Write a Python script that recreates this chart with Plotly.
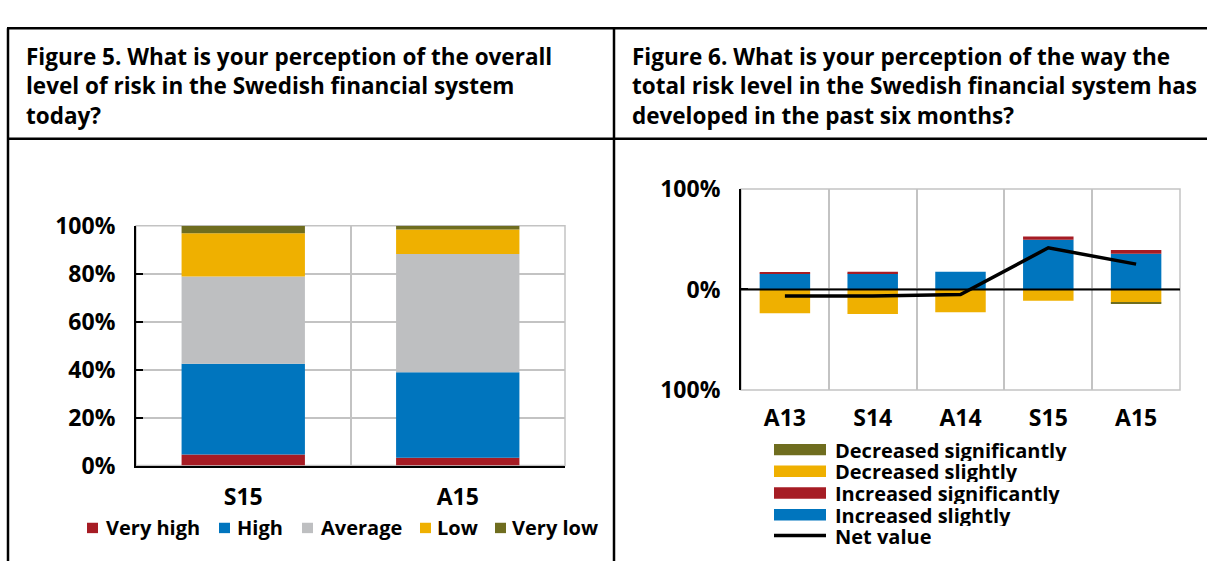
import plotly.graph_objects as go

W, H = 1207, 576

# Figure 5: perceived level of risk (share of respondents, %)
level_cats = ["S15", "A15"]
very_high = [4.6, 3.3]
high = [37.9, 35.6]
average = [36.3, 49.3]
low = [18.1, 10.2]
very_low = [3.1, 1.6]
level_ticks = [0, 20, 40, 60, 80, 100]
level_tick_text = ["0%", "20%", "40%", "60%", "80%", "100%"]

# Figure 6: perceived change in risk over the past six months (%)
change_cats = ["A13", "S14", "A14", "S15", "A15"]
inc_slight = [15.6, 15.9, 17.6, 49.5, 35.5]
inc_sig = [1.5, 1.8, 0.0, 3.1, 3.7]
dec_slight = [23.6, 24.3, 22.6, 11.2, 12.7]
dec_sig = [0.0, 0.0, 0.0, 0.0, 1.3]
net_value = [-6.5, -6.6, -5.0, 41.4, 25.2]
change_ticks = [-100, 0, 100]
change_tick_text = ["100%", "0%", "100%"]

RED = "#A61C24"
BLUE = "#0075BE"
GREY = "#BEBFC1"
YELLOW = "#EFB000"
OLIVE = "#6F6D1F"
GRID = "#C3C3C3"

FONT = "Open Sans"
TICK_FONT = dict(family=FONT, size=23, color="black", weight="bold")
LEGEND_FONT = dict(family=FONT, size=20, color="black", weight="bold")
TITLE_FONT = dict(family=FONT, size=22.5, color="black", weight="bold")


def px(x):
    return x / W


def py(y):
    return 1 - y / H


fig = go.Figure()

# Left panel stacked bars
for name, vals, col in [
    ("Very high", very_high, RED),
    ("High", high, BLUE),
    ("Average", average, GREY),
    ("Low", low, YELLOW),
    ("Very low", very_low, OLIVE),
]:
    fig.add_trace(go.Bar(x=level_cats, y=vals, name=name, marker=dict(color=col, line=dict(width=0)),
                         xaxis="x", yaxis="y", showlegend=False))

# Right panel: increases above zero, decreases below
fig.add_trace(go.Bar(x=change_cats, y=inc_slight, name="Increased slightly",
                     marker=dict(color=BLUE, line=dict(width=0)), xaxis="x2", yaxis="y2", showlegend=False))
fig.add_trace(go.Bar(x=change_cats, y=inc_sig, name="Increased significantly",
                     marker=dict(color=RED, line=dict(width=0)), xaxis="x2", yaxis="y2", showlegend=False))
fig.add_trace(go.Bar(x=change_cats, y=[-v for v in dec_slight], name="Decreased slightly",
                     marker=dict(color=YELLOW, line=dict(width=0)), xaxis="x2", yaxis="y2", showlegend=False))
fig.add_trace(go.Bar(x=change_cats, y=[-v for v in dec_sig], name="Decreased significantly",
                     marker=dict(color=OLIVE, line=dict(width=0)), xaxis="x2", yaxis="y2", showlegend=False))
fig.add_trace(go.Scatter(x=change_cats, y=net_value, name="Net value", mode="lines",
                         line=dict(color="black", width=3.5), xaxis="x2", yaxis="y2", showlegend=False))

common_x = dict(type="category", tickson="boundaries", showgrid=True, gridcolor=GRID, gridwidth=1.5,
                ticks="", tickfont=TICK_FONT, fixedrange=True)
common_y = dict(showgrid=True, gridcolor=GRID, gridwidth=1.5, showline=True, linecolor="black",
                linewidth=2, ticks="inside", ticklen=7, tickwidth=2, tickcolor="black",
                tickfont=TICK_FONT, zeroline=False, fixedrange=True, tickmode="array")

fig.update_layout(
    width=W, height=H, margin=dict(l=0, r=0, t=0, b=0),
    paper_bgcolor="white", plot_bgcolor="white",
    barmode="relative", bargap=0.425,
    font=dict(family=FONT, color="black"),
    xaxis=dict(domain=[px(136), px(565)], anchor="y", showline=True, linecolor="black", linewidth=2,
               ticklabelstandoff=10, **common_x),
    yaxis=dict(domain=[py(475), py(221)], anchor="x", range=[0, 100],
               tickvals=level_ticks, ticktext=level_tick_text, ticklabelstandoff=14, **common_y),
    xaxis2=dict(domain=[px(741), px(1180)], anchor="y2", showline=False,
                ticklabelstandoff=12, **common_x),
    yaxis2=dict(domain=[py(395), py(182)], anchor="x2", range=[-100, 100],
                tickvals=change_ticks, ticktext=change_tick_text, ticklabelstandoff=14, **common_y),
)

shapes = []
# Light frame around each plot area (axis lines are drawn over it)
for xr, yr in [("x domain", "y domain"), ("x2 domain", "y2 domain")]:
    shapes.append(dict(type="rect", xref=xr, yref=yr, x0=0, x1=1, y0=0, y1=1,
                       line=dict(color=GRID, width=1.5), layer="below"))
# Table frame
for x0, y0, x1, y1 in [(7, 12, 1207, 12), (8, 12, 8, 576), (614, 12, 614, 576), (7, 129, 1207, 129)]:
    shapes.append(dict(type="line", xref="paper", yref="paper", x0=px(x0), y0=py(y0), x1=px(x1), y1=py(y1),
                       line=dict(color="black", width=2.5)))
# Zero line of the change panel, drawn over the bars
shapes.append(dict(type="line", xref="x2 domain", yref="y2", x0=0, x1=1, y0=0, y1=0,
                   line=dict(color="black", width=2), layer="above"))

annotations = []
title_5 = ("Figure 5. What is your perception of the overall<br>"
           "level of risk in the Swedish financial system<br>"
           "today?")
title_6 = ("Figure 6. What is your perception of the way the<br>"
           "total risk level in the Swedish financial system has<br>"
           "developed in the past six months?")
for xx, txt in [(24, title_5), (630, title_6)]:
    annotations.append(dict(text=txt, xref="paper", yref="paper", x=px(xx), y=py(73),
                            xanchor="left", yanchor="middle", align="left", showarrow=False,
                            font=TITLE_FONT))

# Left legend (horizontal)
left_legend = [("Very high", RED, 87, 104), ("High", BLUE, 219, 235), ("Average", GREY, 302, 319),
               ("Low", YELLOW, 420, 435), ("Very low", OLIVE, 495, 510)]
for label, col, sx, tx in left_legend:
    shapes.append(dict(type="rect", xref="paper", yref="paper", x0=px(sx), x1=px(sx + 11),
                       y0=py(546.5), y1=py(535.5), fillcolor=col, line=dict(width=0)))
    annotations.append(dict(text=label, xref="paper", yref="paper", x=px(tx), y=py(541),
                            xanchor="left", yanchor="middle", showarrow=False, font=LEGEND_FONT))

# Right legend (vertical)
right_legend = [("Decreased significantly", OLIVE, 458), ("Decreased slightly", YELLOW, 481),
                ("Increased significantly", RED, 504), ("Increased slightly", BLUE, 527)]
for label, col, yy in right_legend:
    shapes.append(dict(type="rect", xref="paper", yref="paper", x0=px(774), x1=px(826),
                       y0=py(yy + 6), y1=py(yy - 6), fillcolor=col, line=dict(width=0)))
    annotations.append(dict(text=label, xref="paper", yref="paper", x=px(833), y=py(yy), height=22,
                            xanchor="left", yanchor="middle", showarrow=False, font=LEGEND_FONT))
shapes.append(dict(type="line", xref="paper", yref="paper", x0=px(774), x1=px(826), y0=py(549), y1=py(549),
                   line=dict(color="black", width=3.5)))
annotations.append(dict(text="Net value", xref="paper", yref="paper", x=px(833), y=py(549), height=22,
                        xanchor="left", yanchor="middle", showarrow=False, font=LEGEND_FONT))

fig.update_layout(shapes=shapes, annotations=annotations)
fig.write_html("out.html", post_script="document.body.style.margin='0';")
